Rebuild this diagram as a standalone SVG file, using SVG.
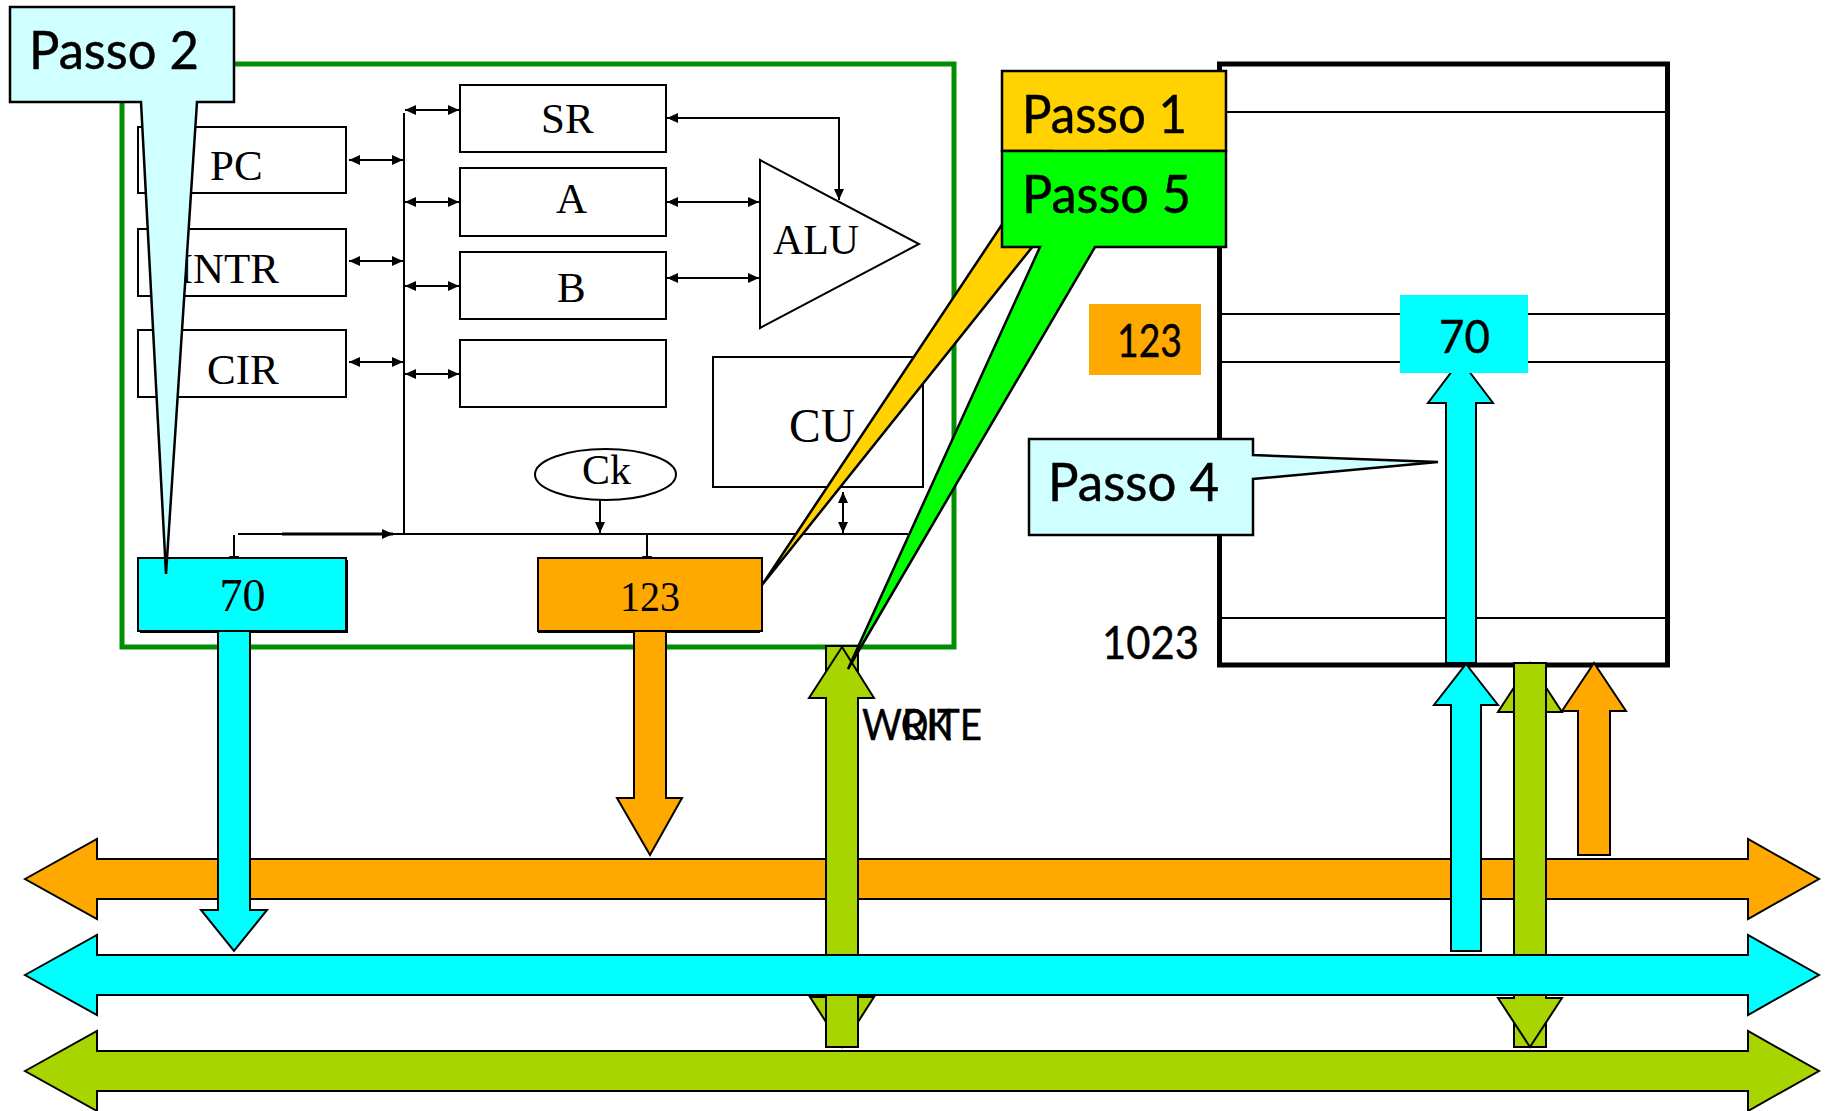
<svg xmlns="http://www.w3.org/2000/svg" width="1829" height="1111" viewBox="0 0 1829 1111">
<defs>
<marker id="ah" markerUnits="userSpaceOnUse" markerWidth="12" markerHeight="12" refX="11" refY="6" orient="auto-start-reverse"><path d="M0 1L11 6L0 11Z" fill="#000"/></marker>
<style>
text{fill:#000}
.s{font-family:"Liberation Serif","Times New Roman",serif;font-size:43px}
.l{font-family:"Lato","Open Sans",sans-serif;font-size:53px;stroke:#000;stroke-width:.5}
.m{font-family:"Lato","Open Sans",sans-serif;font-size:46px;stroke:#000;stroke-width:.4}
.r{fill:#fff;stroke:#000;stroke-width:2}
.o{fill:#ffa800;stroke:#000;stroke-width:2}
.c{fill:#0ff;stroke:#000;stroke-width:2}
.g{fill:#a8d500;stroke:#000;stroke-width:2}
.k{fill:none;stroke:#000;stroke-width:2}
.a{fill:none;stroke:#000;stroke-width:2;marker-start:url(#ah);marker-end:url(#ah)}
.e{fill:none;stroke:#000;stroke-width:2;marker-end:url(#ah)}
.t{stroke:#000;stroke-width:2.5}
</style>
</defs>
<rect width="1829" height="1111" fill="#fff"/>
<g id="cpu-frame"><rect x="122" y="64" width="832" height="583" fill="#fff" stroke="#008f00" stroke-width="5"/></g>
<g id="memory">
<rect x="1219.500" y="64" width="448" height="601" fill="#fff" stroke="#000" stroke-width="5"/>
<path class="k" d="M1219 112H1667M1219 314H1667M1219 362H1667M1219 618H1667"/>
</g>
<g id="reg-pc"><rect class="r" x="138" y="127" width="208" height="66"/><text class="s" x="210" y="180">PC</text></g>
<g id="reg-intr"><rect class="r" x="138" y="229" width="208" height="67"/><text class="s" x="279" y="283" text-anchor="end">INTR</text></g>
<g id="reg-cir"><rect class="r" x="138" y="330" width="208" height="67"/><text class="s" x="207" y="384">CIR</text></g>
<g id="reg-sr"><rect class="r" x="460" y="85" width="206" height="67"/><text class="s" x="541" y="133">SR</text></g>
<g id="reg-a"><rect class="r" x="460" y="168" width="206" height="68"/><text class="s" x="556" y="213">A</text></g>
<g id="reg-b"><rect class="r" x="460" y="252" width="206" height="67"/><text class="s" x="557" y="302">B</text></g>
<g id="reg-blank"><rect class="r" x="460" y="340" width="206" height="67"/></g>
<g id="alu"><path class="r" d="M760 160L919 244L760 328Z"/><text class="s" x="773" y="254" textLength="86" lengthAdjust="spacingAndGlyphs">ALU</text></g>
<g id="cu"><rect class="r" x="713" y="357" width="210" height="130"/><text class="s" x="789" y="442" style="font-size:48px" textLength="66" lengthAdjust="spacingAndGlyphs">CU</text></g>
<g id="ck"><ellipse class="r" cx="605.500" cy="474.500" rx="70.500" ry="25.500"/><text class="s" x="582" y="484" textLength="49" lengthAdjust="spacingAndGlyphs">Ck</text></g>
<g id="connectors">
<path class="a" d="M349 160H403"/><path class="a" d="M349 261H403"/><path class="a" d="M349 362H403"/>
<path class="a" d="M405 110H459"/><path class="a" d="M405 202H459"/><path class="a" d="M405 286H459"/><path class="a" d="M405 374H459"/>
<path class="a" d="M667 202H759"/><path class="a" d="M667 278H759"/>
<path class="a" d="M667 118H839V200"/>
<path class="k" d="M404 113V534M238 534H908"/>
<path class="e" style="stroke-width:3" d="M282 534H393"/>
<path class="e" d="M234 535V567"/>
<path class="e" d="M647 534V567"/>
<path class="e" d="M600 500V533"/>
<path class="a" d="M843 492V533"/>
</g>
<g id="reg-70"><rect x="140" y="560" width="208" height="73" fill="#000"/><rect class="c" x="138" y="558" width="208" height="73"/><text class="s" x="242.500" y="611" text-anchor="middle" style="font-size:46px">70</text></g>
<g id="reg-123"><rect x="538" y="560" width="222" height="73" fill="#000"/><rect class="o" x="538" y="558" width="224" height="73"/><text class="s" x="620" y="611" textLength="60" lengthAdjust="spacingAndGlyphs">123</text></g>
<g id="bus-orange"><path class="o" d="M25 879L97 839V859H1748V839L1819 879L1748 919V899H97V919Z"/></g>
<g id="arrow-cyan-down"><path class="c" d="M218 631H250V910H267L234 951L201 910H218Z"/></g>
<g id="arrow-orange-down"><path class="o" d="M634 631H666V798H682L650 855L617 798H634Z"/></g>
<g id="arrow-write-left">
<path class="g" d="M826 646H858V997H874L842 1047L810 997H826Z"/>
<path class="g" d="M842 647L874 698H858V1047H826V698H809Z"/>
</g>
<g id="arrow-mem-cyan">
<path class="c" d="M1460.500 360L1493 403H1476V663H1446V403H1428Z"/>
</g>
<g id="mem-70"><rect x="1400" y="295" width="128" height="78" fill="#0ff"/><text class="m" x="1439" y="353" textLength="51" lengthAdjust="spacingAndGlyphs">70</text></g>
<g id="mem-123"><rect x="1089" y="304" width="112" height="71" fill="#ffa800"/><text class="m" x="1117" y="357" textLength="65" lengthAdjust="spacingAndGlyphs">123</text></g>
<g id="arrow-right-cyan"><path class="c" d="M1466 664L1498 705H1481V951H1451V705H1434Z"/></g>
<g id="arrow-right-green">
<path class="g" d="M1530 663L1562 712H1546V1047H1514V712H1498Z"/>
<path class="g" d="M1514 663H1546V998H1562L1530 1047L1498 998H1514Z"/>
</g>
<g id="arrow-right-orange"><path class="o" d="M1594 663L1626 711H1610V855H1578V711H1562Z"/></g>
<g id="bus-cyan"><path class="c" d="M25 975L97 935V955H1748V935L1819 975L1748 1015V995H97V1015Z"/></g>
<g id="bus-green"><path class="g" d="M25 1071L97 1031V1051H1748V1031L1819 1071L1748 1111V1091H97V1111Z"/></g>
<g id="label-1023"><text class="m" x="1102" y="659" textLength="97" lengthAdjust="spacingAndGlyphs">1023</text></g>
<g id="label-write"><text class="m" x="862" y="740" style="font-size:43px" textLength="120" lengthAdjust="spacingAndGlyphs">WRITE</text></g>
<g id="label-ok"><text class="m" x="901" y="740" style="font-size:43px" textLength="50" lengthAdjust="spacingAndGlyphs">OK</text></g>
<g id="passo-1"><path class="t" fill="#ffd200" d="M1002 71H1226V151H1109L762 585L1051 151H1002Z"/><text class="l" x="1022" y="133" textLength="165" lengthAdjust="spacingAndGlyphs">Passo 1</text></g>
<g id="passo-5"><path class="t" fill="#0f0" d="M1002 151H1226V247H1095L848 669L1040 247H1002Z"/><text class="l" x="1022" y="213" textLength="169" lengthAdjust="spacingAndGlyphs">Passo 5</text></g>
<g id="passo-4"><path class="t" fill="#d0ffff" d="M1029 439H1253V455L1438 462L1253 479V535H1029Z"/><text class="l" x="1048" y="501" textLength="171" lengthAdjust="spacingAndGlyphs">Passo 4</text></g>
<g id="passo-2"><path class="t" fill="#d0ffff" d="M10 7H234V102H197L166 574L141 102H10Z"/><text class="l" x="29" y="69" textLength="170" lengthAdjust="spacingAndGlyphs">Passo 2</text></g>
</svg>
